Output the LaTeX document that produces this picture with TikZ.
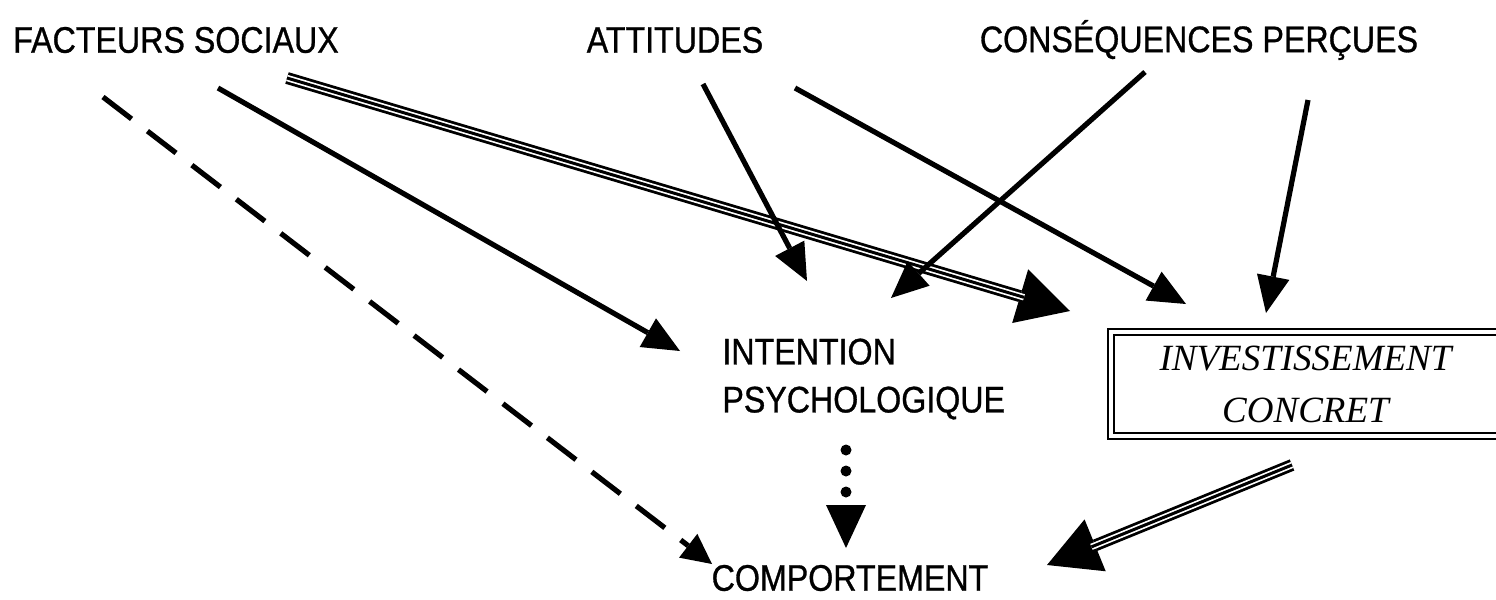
\documentclass[tikz,border=0pt]{standalone}
\usepackage{fontspec}
\setmainfont{Liberation Sans}[FakeStretch=0.87,FakeBold=0.8]
\newfontfamily\boxfont{Liberation Serif}
\usetikzlibrary{arrows.meta}
\newcommand\tripleconn[2]{%
  \draw[line width=6pt, -{Triangle[length=26pt,width=28pt,line width=0pt]}] (#1) -- (#2);
  \draw[white, line width=3.2pt, shorten >=24pt] (#1) -- (#2);
  \draw[black, line width=1.5pt, shorten >=24pt] (#1) -- (#2);}
\begin{document}
\begin{tikzpicture}[x=0.5pt,y=-0.5pt,
  lbl/.style={font=\fontsize{18.5}{24}\selectfont, inner sep=0pt},
  solidarr/.style={line width=2.6pt, -{Triangle[length=18.5pt,width=16.5pt,line width=0pt]}},
  dasharr/.style={line width=2.6pt, dash pattern=on 18pt off 10pt, -{Triangle[length=15pt,width=15pt,line width=0pt]}},
  dotarr/.style={line width=5.5pt, line cap=round, dash pattern=on 0pt off 10.5pt, -{Triangle[length=21.5pt,width=20pt,line width=0pt]}},
  boxnode/.style={draw, double, line width=1pt, double distance=2pt, minimum width=194.5pt, minimum height=52pt, inner sep=0pt, align=center, font=\boxfont\itshape\fontsize{18.5}{26}\selectfont}
]
\fill[white] (0,0) rectangle (1496,600);
\clip (0,0) rectangle (1496,600);

% nodes
\node[lbl] (fs) at (176,40) {FACTEURS SOCIAUX};
\node[lbl] (att) at (675,40) {ATTITUDES};
\node[lbl] (cons) at (1199,40) {CONSÉQUENCES PERÇUES};
\node[lbl, anchor=west, align=left] (int) at (722,379) {INTENTION\\PSYCHOLOGIQUE};
\node[lbl] (comp) at (850,578) {COMPORTEMENT};
\node[boxnode] (inv) at (1305.5,384) {INVESTISSEMENT\\CONCRET};

% connector end points
\coordinate (fsDashS) at (103,97);
\coordinate (compDashE) at (712,564);
\coordinate (fsSolS) at (218,88);
\coordinate (intFsE) at (680,351);
\coordinate (fsTriS) at (287,78);
\coordinate (invFsE) at (1070,311);
\coordinate (attS1) at (703,84);
\coordinate (intAttE) at (807,281);
\coordinate (attS2) at (795,88);
\coordinate (invAttE) at (1186,304);
\coordinate (consS1) at (1145,72);
\coordinate (intConsE) at (891,298);
\coordinate (consS2) at (1308,100);
\coordinate (invConsE) at (1266,313);
\coordinate (intDotS) at (846,450);
\coordinate (compDotE) at (846,548);
\coordinate (invTriS) at (1292,465);
\coordinate (compInvE) at (1047,565);

% connectors
\tripleconn{fsTriS}{invFsE}
\tripleconn{invTriS}{compInvE}
\draw[dasharr] (fsDashS) -- (compDashE);
\draw[solidarr] (fsSolS) -- (intFsE);
\draw[solidarr] (attS1) -- (intAttE);
\draw[solidarr] (attS2) -- (invAttE);
\draw[solidarr] (consS1) -- (intConsE);
\draw[solidarr] (consS2) -- (invConsE);
\draw[dotarr] (intDotS) -- (compDotE);
\end{tikzpicture}
\end{document}
